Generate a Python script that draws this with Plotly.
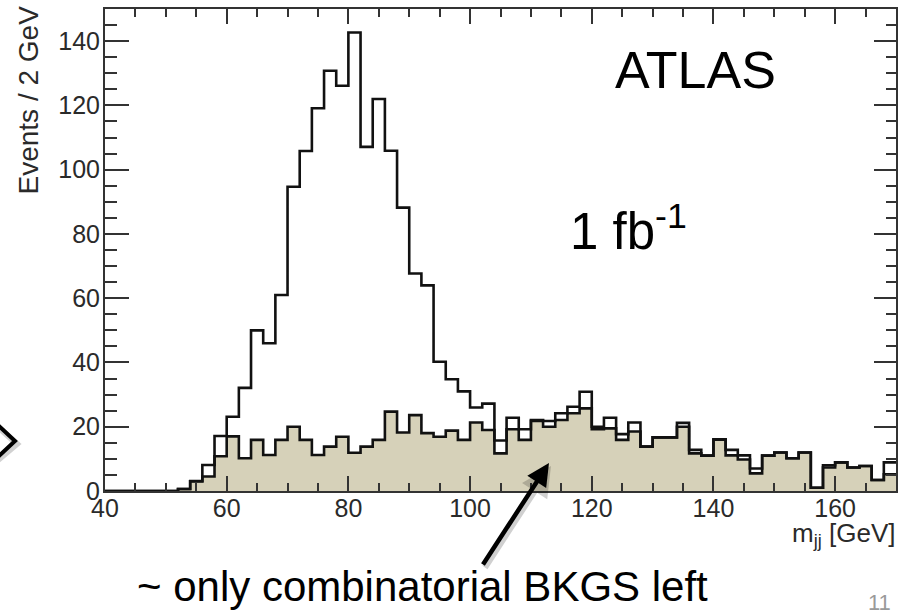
import plotly.graph_objects as go

# Dijet invariant mass, 2 GeV bins from 40 to 170 GeV
bin_low = list(range(40, 170, 2))

# all selected events (signal + combinatorial background)
total_counts = [
    0, 0, 0, 0, 0, 0, 0.6, 3.1, 8.1, 17.1,
    23.1, 32.1, 50.0, 46.0, 61.0, 94.7, 105.8, 119.1, 130.8, 126.1,
    142.7, 107.1, 122.0, 105.9, 88.2, 67.7, 64.0, 40.2, 34.8, 31.0,
    26.0, 27.2, 15.7, 22.8, 19.2, 22.1, 21.8, 24.2, 26.2, 30.9,
    20.0, 22.8, 17.7, 21.3, 13.8, 16.7, 16.7, 21.2, 12.8, 11.0,
    16.1, 12.8, 11.1, 7.0, 11.0, 12.0, 10.2, 12.0, 1.0, 8.0,
    8.9, 7.3, 7.8, 3.4, 8.9,
]

# combinatorial background only
bkg_counts = [
    0, 0, 0, 0, 0, 0, 0.6, 3.0, 4.5, 10.8,
    17.0, 10.2, 15.9, 11.2, 15.9, 20.0, 15.9, 11.2, 13.8, 16.9,
    11.9, 13.8, 15.9, 24.7, 18.2, 23.6, 18.0, 16.9, 18.8, 15.9,
    21.3, 19.0, 11.7, 19.2, 15.9, 21.8, 20.0, 22.1, 24.2, 25.7,
    19.2, 19.5, 15.9, 18.5, 13.8, 16.7, 16.7, 20.0, 11.7, 11.0,
    16.0, 11.1, 9.8, 5.5, 11.0, 12.0, 10.2, 12.0, 1.0, 7.3,
    8.9, 7.3, 7.8, 3.4, 5.2,
]

x_ticks = [40, 60, 80, 100, 120, 140, 160]
y_ticks = [0, 20, 40, 60, 80, 100, 120, 140]

BIN_W = 2
edges = bin_low + [bin_low[-1] + BIN_W]

FONT = "Liberation Sans, Arial, Helvetica, sans-serif"
TAN = "#d6d1b9"
INK = "#111111"

W, H = 906, 610
ML, MR, MT, MB = 105, 10, 9, 119
PW, PH = W - ML - MR, H - MT - MB


def px(xp):
    return (xp - ML) / PW


def py(yp):
    return (H - MB - yp) / PH


fig = go.Figure()

# background histogram, filled
fig.add_trace(go.Scatter(
    x=edges, y=bkg_counts + [bkg_counts[-1]],
    mode="lines", line=dict(shape="hv", color=INK, width=2.6),
    fill="tozeroy", fillcolor=TAN, hoverinfo="skip", showlegend=False,
))

# total histogram, outline only
fig.add_trace(go.Scatter(
    x=edges, y=total_counts + [total_counts[-1]],
    mode="lines", line=dict(shape="hv", color=INK, width=2.6),
    hoverinfo="skip", showlegend=False,
))

tick_font = dict(family=FONT, size=25, color="#2a2a2a")
frame = "#333333"

fig.update_layout(
    width=W, height=H,
    margin=dict(l=ML, r=MR, t=MT, b=MB, pad=0),
    paper_bgcolor="white", plot_bgcolor="white",
    showlegend=False,
    xaxis=dict(
        range=[40, 170], tickvals=x_ticks, ticktext=[str(v) for v in x_ticks],
        ticks="inside", ticklen=15, tickwidth=1.5, tickcolor=frame,
        minor=dict(dtick=5, tick0=40, ticks="inside", ticklen=8, tickwidth=1.5, tickcolor=frame),
        showline=True, linecolor=frame, linewidth=2,
        showgrid=False, zeroline=False, tickfont=tick_font,
        ticklabelstandoff=-6,
    ),
    yaxis=dict(
        range=[0, 150], tickvals=y_ticks, ticktext=[str(v) for v in y_ticks],
        ticks="inside", ticklen=24, tickwidth=1.5, tickcolor=frame,
        minor=dict(dtick=5, tick0=0, ticks="inside", ticklen=12, tickwidth=1.5, tickcolor=frame),
        showline=True, linecolor=frame, linewidth=2,
        showgrid=False, zeroline=False, tickfont=tick_font,
        ticklabelstandoff=-2,
    ),
    xaxis2=dict(
        overlaying="x", side="top", anchor="y", range=[40, 170],
        tickvals=x_ticks, showticklabels=False,
        ticks="inside", ticklen=15, tickwidth=1.5, tickcolor=frame,
        minor=dict(dtick=5, tick0=40, ticks="inside", ticklen=8, tickwidth=1.5, tickcolor=frame),
        showline=True, linecolor=frame, linewidth=2,
        showgrid=False, zeroline=False,
    ),
    yaxis2=dict(
        overlaying="y", side="right", anchor="x", range=[0, 150],
        tickvals=y_ticks, showticklabels=False,
        ticks="inside", ticklen=22, tickwidth=1.5, tickcolor=frame,
        minor=dict(dtick=5, tick0=0, ticks="inside", ticklen=10, tickwidth=1.5, tickcolor=frame),
        showline=True, linecolor=frame, linewidth=2,
        showgrid=False, zeroline=False,
    ),
)

# empty trace so the mirrored axes are drawn
fig.add_trace(go.Scatter(x=[None], y=[None], xaxis="x2", yaxis="y2",
                         showlegend=False, hoverinfo="skip"))

annotations = [
    # y axis title
    dict(text="Events / 2 GeV", x=px(28), y=py(4), xref="paper", yref="paper",
         xanchor="center", yanchor="top", textangle=-90, showarrow=False,
         font=dict(family=FONT, size=28, color="#2a2a2a")),
    # x axis title
    dict(text="m<sub>jj</sub> [GeV]", x=px(897), y=py(516), xref="paper", yref="paper",
         xanchor="right", yanchor="top", showarrow=False,
         font=dict(family=FONT, size=26, color="#2a2a2a")),
    dict(text="ATLAS", x=px(613), y=py(70), xref="paper", yref="paper",
         xanchor="left", yanchor="middle", showarrow=False,
         font=dict(family=FONT, size=52, color="black")),
    dict(text="1 fb<sup>-1</sup>", x=px(568), y=py(228), xref="paper", yref="paper",
         xanchor="left", yanchor="middle", showarrow=False,
         font=dict(family=FONT, size=51, color="black")),
    dict(text="~ only combinatorial BKGS left", x=px(422), y=py(586), xref="paper", yref="paper",
         xanchor="center", yanchor="middle", showarrow=False,
         font=dict(family=FONT, size=42, color="black")),
    dict(text="11", x=px(893), y=py(588), xref="paper", yref="paper",
         xanchor="right", yanchor="top", showarrow=False,
         font=dict(family=FONT, size=22, color="#9a9a9a")),
    # soft shadow under the pointer
    dict(text="", x=px(551), y=py(466), xref="paper", yref="paper",
         ax=482 - 549, ay=566 - 463, axref="pixel", ayref="pixel",
         showarrow=True, arrowhead=2, arrowsize=1.0, arrowwidth=6,
         arrowcolor="rgba(0,0,0,0.18)"),
    # pointer to the background
    dict(text="", x=px(549), y=py(463), xref="paper", yref="paper",
         ax=482 - 549, ay=566 - 463, axref="pixel", ayref="pixel",
         showarrow=True, arrowhead=2, arrowsize=1.0, arrowwidth=4.5, arrowcolor="black"),
]
fig.update_layout(annotations=annotations)

# chevron at the left edge, with a faint shadow
fig.add_shape(type="path",
              path=f"M {px(-2)} {py(427)} L {px(17)} {py(444)} L {px(-2)} {py(460)}",
              xref="paper", yref="paper", line=dict(color="rgba(0,0,0,0.18)", width=6))
fig.add_shape(type="path",
              path=f"M {px(-2)} {py(425)} L {px(15)} {py(441)} L {px(-2)} {py(457)}",
              xref="paper", yref="paper", line=dict(color="black", width=4))

fig.write_html("out.html")
